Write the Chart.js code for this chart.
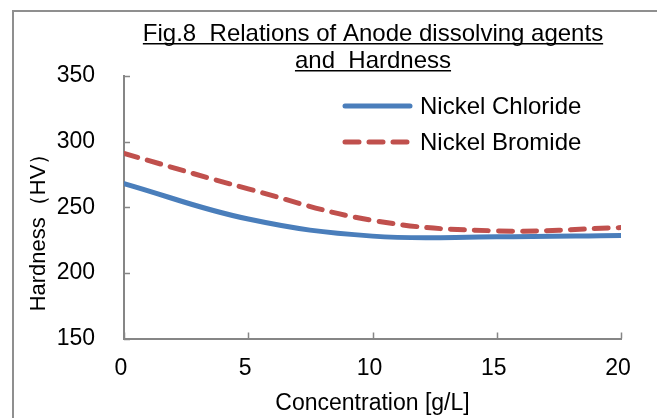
<!DOCTYPE html>
<html>
<head>
<meta charset="utf-8">
<script src="https://cdn.jsdelivr.net/npm/chart.js@4"></script>
<style>
  html, body { margin: 0; padding: 0; background: #fff; overflow: hidden; }
  #wrap { position: relative; width: 657px; height: 418px; }
  #frame { position: absolute; left: 12px; top: 10px; width: 660px; height: 420px;
           border-left: 2px solid #8f8f8f; border-top: 2px solid #8f8f8f; }
  canvas { position: absolute; left: 0; top: 0; }
</style>
</head>
<body>
<div id="wrap">
  <div id="frame"></div>
  <canvas id="chart" width="657" height="418"></canvas>
</div>
<script>
  const concentration = [0, 5, 10, 15, 20];
  const nickelChloride = [268, 241, 228, 227.5, 228.5];
  const nickelBromide = [291, 264, 240, 232, 234.5];
  const seriesNames = ["Nickel Chloride", "Nickel Bromide"];
  const titleLines = ["Fig.8  Relations of Anode dissolving agents", "and  Hardness"];
  const xTitle = "Concentration [g/L]";
  const yTitle = "Hardness\uFF08HV\uFF09";

  const FONT_FAMILY = "'Liberation Sans', Arial, sans-serif";
  const TICK_FONT = { family: FONT_FAMILY, size: 23 };
  const LABEL_FONT = { family: FONT_FAMILY, size: 23 };
  const AXIS_COLOR = "#868686";

  const toPoints = (ys) => ys.map((y, i) => ({ x: concentration[i], y }));

  // small inward tick marks, like the original
  const innerTicks = {
    id: "innerTicks",
    afterDraw(chart) {
      const { ctx, scales: { x, y } } = chart;
      ctx.save();
      ctx.strokeStyle = AXIS_COLOR;
      ctx.lineWidth = 1.5;
      ctx.beginPath();
      x.ticks.forEach((t) => {
        const px = Math.round(x.getPixelForValue(t.value)) + 0.5;
        ctx.moveTo(px, y.bottom);
        ctx.lineTo(px, y.bottom - 6);
      });
      y.ticks.forEach((t) => {
        const py = Math.round(y.getPixelForValue(t.value)) + 0.5;
        ctx.moveTo(x.left, py);
        ctx.lineTo(x.left + 6, py);
      });
      ctx.stroke();
      ctx.restore();
    },
  };

  // underlined title, y-axis title and the legend inside the plot
  const decorations = {
    id: "decorations",
    afterDraw(chart) {
      const { ctx } = chart;
      ctx.save();
      ctx.fillStyle = "#000";

      ctx.font = `24px ${FONT_FAMILY}`;
      ctx.textAlign = "center";
      ctx.textBaseline = "alphabetic";
      const cx = 373;
      const baselines = [41, 68];
      titleLines.forEach((line, i) => {
        ctx.fillText(line, cx, baselines[i]);
        const w = ctx.measureText(line).width;
        ctx.fillRect(cx - w / 2, baselines[i] + 2, w, 1.5);
      });

      // y title
      ctx.save();
      ctx.font = `22px ${FONT_FAMILY}`;
      ctx.translate(39, 227);
      ctx.rotate(-Math.PI / 2);
      ctx.textBaseline = "middle";
      ctx.fillText(yTitle, 0, 0);
      ctx.restore();

      // legend
      ctx.font = `24px ${FONT_FAMILY}`;
      const rows = [106, 142];
      chart.data.datasets.forEach((ds, i) => {
        const yy = rows[i];
        ctx.strokeStyle = ds.borderColor;
        ctx.lineWidth = ds.borderWidth;
        ctx.lineCap = "round";
        ctx.setLineDash(ds.borderDash || []);
        ctx.beginPath();
        ctx.moveTo(345, yy);
        ctx.lineTo(410, yy);
        ctx.stroke();
        ctx.setLineDash([]);
        ctx.textAlign = "left";
        ctx.textBaseline = "middle";
        ctx.fillText(ds.label, 420, yy + 1);
      });
      ctx.restore();
    },
  };

  new Chart(document.getElementById("chart"), {
    type: "line",
    data: {
      datasets: [
        {
          label: seriesNames[0],
          data: toPoints(nickelChloride),
          borderColor: "#4a7ebb",
          borderWidth: 5,
          borderCapStyle: "round",
          tension: 0.4,
          pointRadius: 0,
          fill: false,
        },
        {
          label: seriesNames[1],
          data: toPoints(nickelBromide),
          borderColor: "#c0504d",
          borderWidth: 5,
          borderDash: [14, 10],
          borderCapStyle: "round",
          tension: 0.4,
          pointRadius: 0,
          fill: false,
        },
      ],
    },
    options: {
      responsive: false,
      animation: false,
      layout: { padding: { top: 76, right: 36, left: 0, bottom: 0 } },
      plugins: {
        legend: { display: false },
        title: { display: false },
        tooltip: { enabled: false },
      },
      scales: {
        x: {
          type: "linear",
          min: 0,
          max: 20,
          grid: { display: false },
          border: { color: AXIS_COLOR, width: 2 },
          ticks: { stepSize: 5, color: "#000", font: TICK_FONT, padding: 8, labelOffset: -3 },
          title: { display: true, text: xTitle, color: "#000", font: LABEL_FONT, padding: { top: 0, bottom: 1 } },
          afterFit(scale) { scale.height = 79.5; },
        },
        y: {
          min: 150,
          max: 350,
          grid: { display: false },
          border: { color: AXIS_COLOR, width: 2 },
          ticks: { stepSize: 50, color: "#000", font: TICK_FONT, padding: 21 },
          title: { display: false },
          afterFit(scale) { scale.width = 124; },
        },
      },
    },
    plugins: [innerTicks, decorations],
  });
</script>
</body>
</html>
